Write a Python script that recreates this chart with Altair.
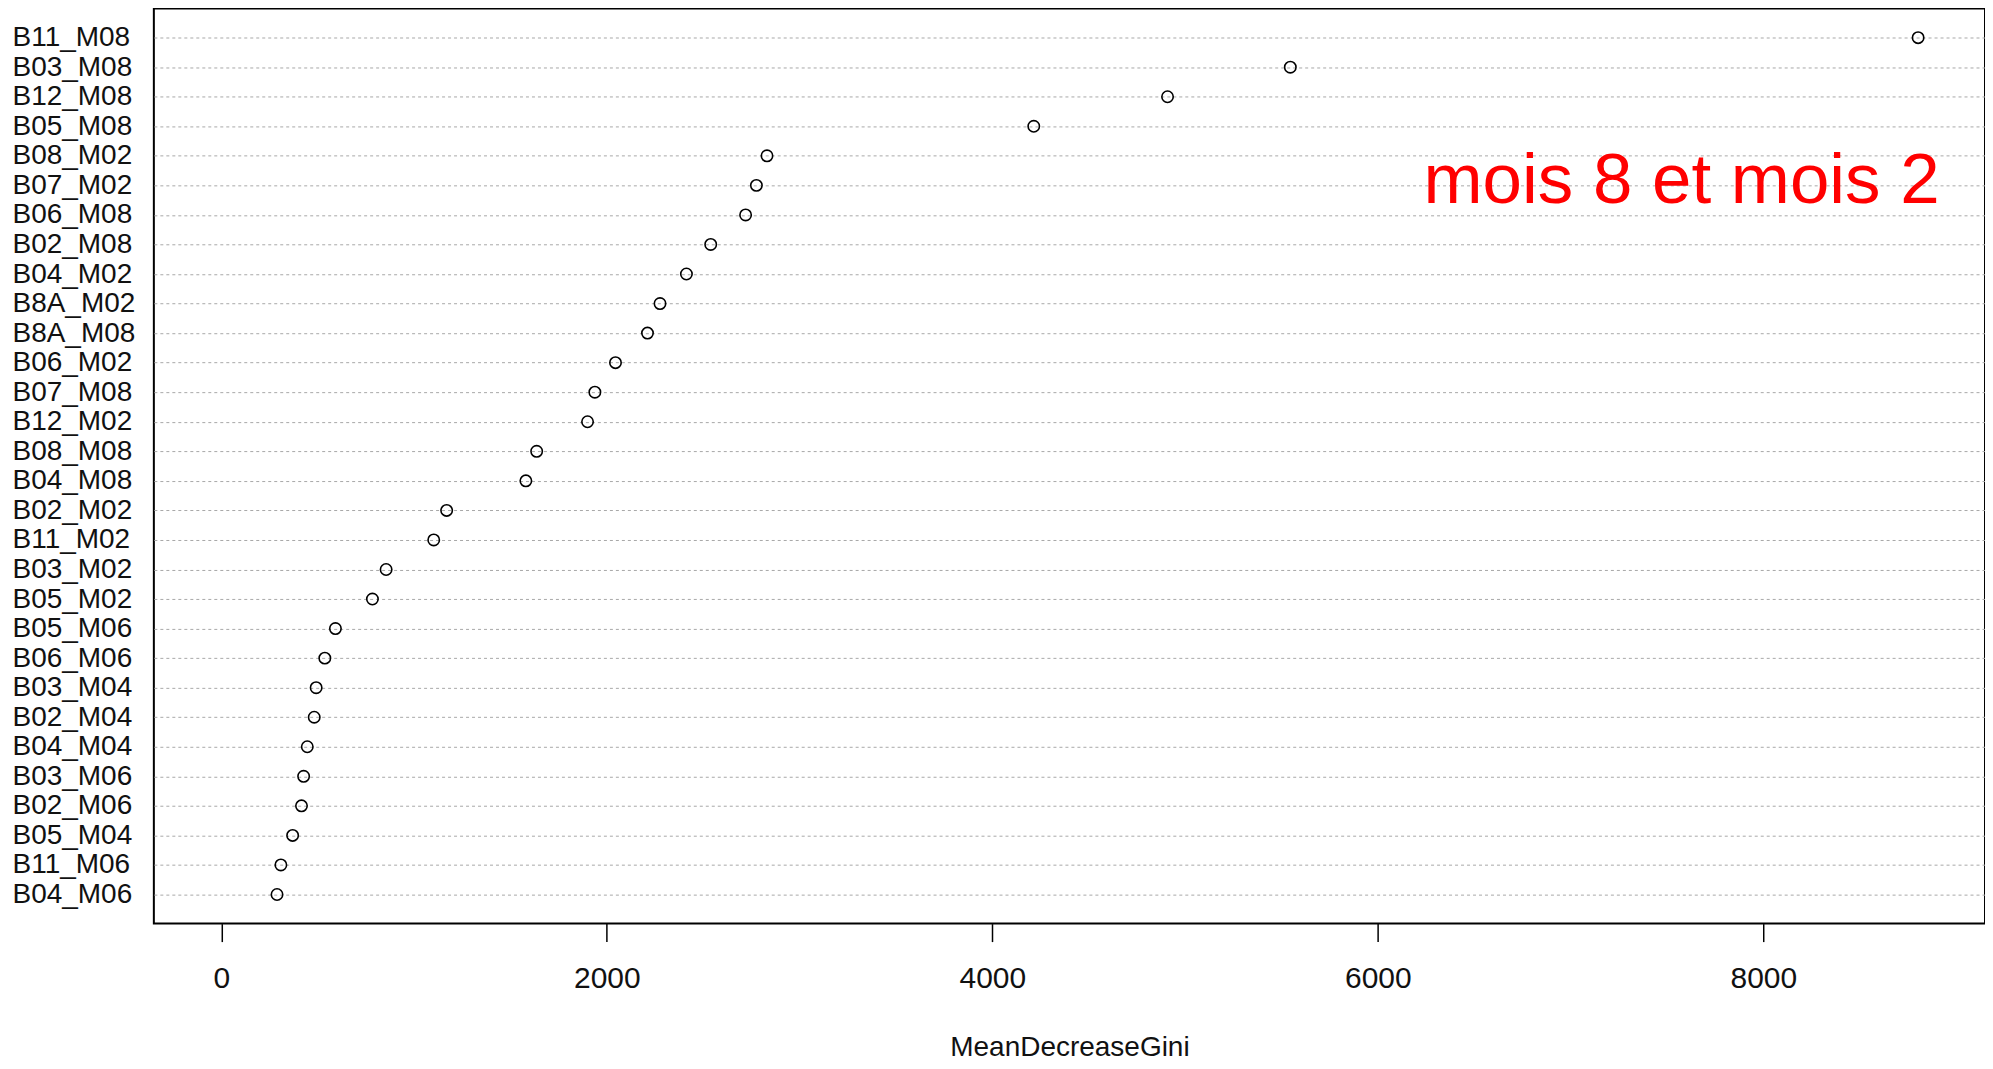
import altair as alt
import pandas as pd

variables = ["B11_M08", "B03_M08", "B12_M08", "B05_M08", "B08_M02", "B07_M02",
             "B06_M08", "B02_M08", "B04_M02", "B8A_M02", "B8A_M08", "B06_M02",
             "B07_M08", "B12_M02", "B08_M08", "B04_M08", "B02_M02", "B11_M02",
             "B03_M02", "B05_M02", "B05_M06", "B06_M06", "B03_M04", "B02_M04",
             "B04_M04", "B03_M06", "B02_M06", "B05_M04", "B11_M06", "B04_M06"]
gini = [8803, 5546, 4909, 4215, 2831, 2776,
        2720, 2539, 2413, 2276, 2211, 2045,
        1938, 1900, 1636, 1580, 1169, 1102,
        855, 784, 592, 537, 492, 482,
        446, 427, 416, 370, 309, 289]
x_ticks = [0, 2000, 4000, 6000, 8000]
annotation_text = ["mois 8 et mois 2"]
annotation_x = [8915]
annotation_row = ["B06_M08"]

FONT = "Liberation Sans"

df = pd.DataFrame({"variable": variables, "MeanDecreaseGini": gini})
ann = pd.DataFrame({"label": annotation_text, "x": annotation_x, "variable": annotation_row})

x_scale = alt.Scale(domain=[-350, 9150], nice=False, zero=False)
y_scale = alt.Scale(type="point", domain=variables, padding=0.985)

points = alt.Chart(df).mark_point(
    shape="circle", filled=False, color="black", size=130, strokeWidth=1.6, opacity=1
).encode(
    x=alt.X("MeanDecreaseGini:Q", scale=x_scale,
            axis=alt.Axis(values=x_ticks, title="MeanDecreaseGini", grid=False,
                          domain=False, tickColor="black", tickSize=18, tickWidth=1.5,
                          labelFont=FONT, labelFontSize=30, labelColor="#111111",
                          labelPadding=22, format="d",
                          titleFont=FONT, titleFontSize=28, titleFontWeight="normal",
                          titleColor="#111111", titlePadding=40)),
    y=alt.Y("variable:N", scale=y_scale, sort=variables,
            axis=alt.Axis(title=None, ticks=False, tickSize=0, domain=False,
                          grid=True, gridColor="#a8a8a8", gridDash=[3, 3], gridWidth=1,
                          labelFont=FONT, labelFontSize=28, labelColor="#111111",
                          labelAlign="left", labelBaseline="middle", labelPadding=142)),
)

text = alt.Chart(ann).mark_text(
    font=FONT, fontSize=71, color="#ff0000", align="right", baseline="alphabetic", dy=-12
).encode(
    x=alt.X("x:Q", scale=x_scale),
    y=alt.Y("variable:N", scale=y_scale, sort=variables),
    text="label:N",
)

chart = alt.layer(points, text).properties(
    width=1833, height=916,
    background="white",
    autosize=alt.AutoSizeParams(type="none"),
    padding={"left": 146, "top": 0, "right": 0, "bottom": 137},
).configure_view(
    stroke="black", strokeWidth=2, fill="white"
)

chart.save("out.html", embed_options={"renderer": "svg", "actions": False})
